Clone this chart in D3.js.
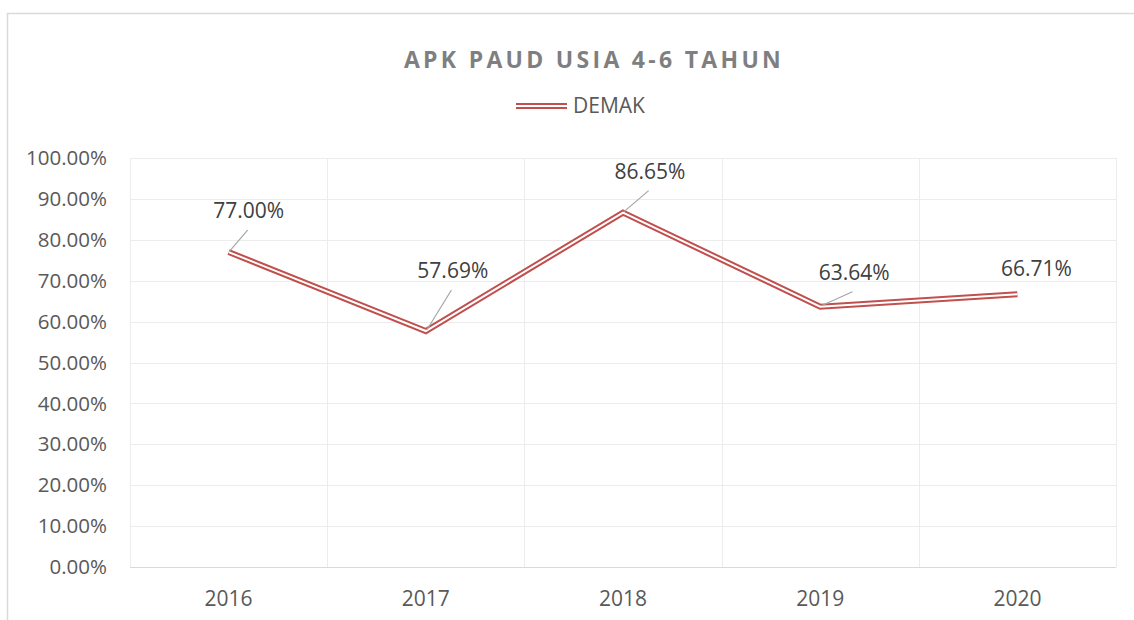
<!DOCTYPE html>
<html>
<head>
<meta charset="utf-8">
<script src="https://cdn.jsdelivr.net/npm/d3@7"></script>
<style>
  body { margin: 0; background: #fff; }
  text { font-family: "Open Sans", "Noto Sans", sans-serif; }
</style>
</head>
<body>
<svg id="chart" width="1134" height="620"></svg>
<script>
const years = ['2016', '2017', '2018', '2019', '2020'];
const demak = [77.00, 57.69, 86.65, 63.64, 66.71];
const yTicks = [0, 10, 20, 30, 40, 50, 60, 70, 80, 90, 100];
// label offsets relative to the point (dx, dy) and whether a leader line is drawn
const labelOffsets = [[20, -41, true], [27, -60, true], [27, -41, true], [34, -34, true], [19, -26, false]];

const svg = d3.select('#chart');
const margin = { left: 130, top: 158, right: 1116, bottom: 567 };

// chart frame
svg.append('rect')
  .attr('x', 7.5).attr('y', 13.5)
  .attr('width', 1140).attr('height', 620)
  .attr('fill', '#fff')
  .attr('stroke', '#d9d9d9')
  .attr('stroke-width', 1.5);

const x = d3.scaleBand().domain(years).range([margin.left, margin.right]);
const y = d3.scaleLinear().domain([0, 100]).range([margin.bottom, margin.top]);

// horizontal gridlines
svg.append('g')
  .selectAll('line')
  .data(yTicks.slice(1))
  .enter().append('line')
  .attr('x1', margin.left).attr('x2', margin.right)
  .attr('y1', d => Math.round(y(d)) + 0.5)
  .attr('y2', d => Math.round(y(d)) + 0.5)
  .attr('stroke', '#ececec')
  .attr('stroke-width', 1);

// vertical gridlines at category boundaries
const bounds = years.map(d => x(d)).concat([margin.right]);
svg.append('g')
  .selectAll('line')
  .data(bounds)
  .enter().append('line')
  .attr('x1', d => Math.round(d) + 0.5).attr('x2', d => Math.round(d) + 0.5)
  .attr('y1', margin.top).attr('y2', margin.bottom)
  .attr('stroke', '#ececec')
  .attr('stroke-width', 1);

// bottom axis line
svg.append('line')
  .attr('x1', margin.left).attr('x2', margin.right)
  .attr('y1', margin.bottom + 0.5).attr('y2', margin.bottom + 0.5)
  .attr('stroke', '#d9d9d9');

// y tick labels
svg.append('g')
  .selectAll('text')
  .data(yTicks)
  .enter().append('text')
  .attr('x', 107)
  .attr('y', d => y(d))
  .attr('dy', '0.35em')
  .attr('text-anchor', 'end')
  .attr('font-size', 20.5)
  .attr('fill', '#595959')
  .text(d => d.toFixed(2) + '%');

// x tick labels
svg.append('g')
  .selectAll('text')
  .data(years)
  .enter().append('text')
  .attr('x', d => x(d) + x.bandwidth() / 2)
  .attr('y', 599)
  .attr('dy', '0.35em')
  .attr('text-anchor', 'middle')
  .attr('font-size', 21)
  .attr('fill', '#595959')
  .text(d => d);

// compound (double) line
const line = d3.line()
  .x((d, i) => x(years[i]) + x.bandwidth() / 2)
  .y(d => y(d));

svg.append('path')
  .datum(demak)
  .attr('d', line)
  .attr('fill', 'none')
  .attr('stroke', '#c0504d')
  .attr('stroke-width', 6);
svg.append('path')
  .datum(demak)
  .attr('d', line)
  .attr('fill', 'none')
  .attr('stroke', '#fff')
  .attr('stroke-width', 2);

// data labels with leader lines
const labels = svg.append('g');
demak.forEach((v, i) => {
  const px = x(years[i]) + x.bandwidth() / 2;
  const py = y(v);
  const [dx, dy, leader] = labelOffsets[i];
  if (leader) {
    labels.append('line')
      .attr('x1', px + 1).attr('y1', py - 1)
      .attr('x2', px + dx * 0.95).attr('y2', py + dy + 19)
      .attr('stroke', '#a6a6a6')
      .attr('stroke-width', 1.2);
  }
  labels.append('text')
    .attr('x', px + dx)
    .attr('y', py + dy)
    .attr('dy', '0.35em')
    .attr('text-anchor', 'middle')
    .attr('font-size', 21)
    .attr('fill', '#404040')
    .text(v.toFixed(2) + '%');
});

// title
svg.append('text')
  .attr('x', 594)
  .attr('y', 60)
  .attr('dy', '0.35em')
  .attr('text-anchor', 'middle')
  .attr('font-size', 23)
  .attr('font-weight', 'bold')
  .attr('letter-spacing', 3.3)
  .attr('fill', '#7f7f7f')
  .text('APK PAUD USIA 4-6 TAHUN');

// legend
const lg = svg.append('g');
lg.append('line')
  .attr('x1', 516).attr('x2', 567).attr('y1', 106).attr('y2', 106)
  .attr('stroke', '#c0504d').attr('stroke-width', 6);
lg.append('line')
  .attr('x1', 516).attr('x2', 567).attr('y1', 106).attr('y2', 106)
  .attr('stroke', '#fff').attr('stroke-width', 2);
lg.append('text')
  .attr('x', 573).attr('y', 106)
  .attr('dy', '0.35em')
  .attr('font-size', 21)
  .attr('fill', '#595959')
  .text('DEMAK');
</script>
</body>
</html>
